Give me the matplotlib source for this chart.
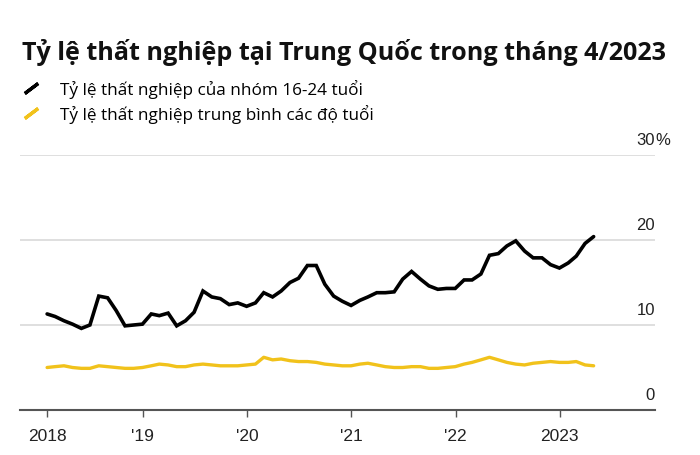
import numpy as np
import pandas as pd
import matplotlib
matplotlib.use('Agg')
import matplotlib.pyplot as plt
import matplotlib.dates as mdates
from matplotlib.lines import Line2D

## monthly values, Jan 2018 - Apr 2023 (%)
youth = [11.3, 11.0, 10.5, 10.1, 9.6, 10.0, 13.4, 13.2, 11.7, 9.9, 10.0, 10.1,
         11.3, 11.1, 11.4, 9.9, 10.5, 11.5, 14.0, 13.3, 13.1, 12.4, 12.6, 12.2,
         12.6, 13.8, 13.3, 14.0, 15.0, 15.5, 17.0, 17.0, 14.8, 13.4, 12.8, 12.3,
         12.9, 13.3, 13.8, 13.8, 13.9, 15.4, 16.3, 15.4, 14.6, 14.2, 14.3, 14.3,
         15.3, 15.3, 16.0, 18.2, 18.4, 19.3, 19.9, 18.7, 17.9, 17.9, 17.1, 16.7,
         17.3, 18.1, 19.6, 20.4]
overall = [5.0, 5.1, 5.2, 5.0, 4.9, 4.9, 5.2, 5.1, 5.0, 4.9, 4.9, 5.0,
           5.2, 5.4, 5.3, 5.1, 5.1, 5.3, 5.4, 5.3, 5.2, 5.2, 5.2, 5.3,
           5.4, 6.2, 5.9, 6.0, 5.8, 5.7, 5.7, 5.6, 5.4, 5.3, 5.2, 5.2,
           5.4, 5.5, 5.3, 5.1, 5.0, 5.0, 5.1, 5.1, 4.9, 4.9, 5.0, 5.1,
           5.4, 5.6, 5.9, 6.2, 5.9, 5.6, 5.4, 5.3, 5.5, 5.6, 5.7, 5.6,
           5.6, 5.7, 5.3, 5.2]
dates = pd.date_range('2018-01-31', periods=len(youth), freq='ME')

title = "Tỷ lệ thất nghiệp tại Trung Quốc trong tháng 4/2023"
labels = ["Tỷ lệ thất nghiệp của nhóm 16-24 tuổi",
          "Tỷ lệ thất nghiệp trung bình các độ tuổi"]
colors = ['black', '#f1c21b']

xtick_dates = [dates[0]] + [pd.Timestamp(f'{y}-01-01') for y in range(2019, 2024)]
xtick_labels = ['2018', "'19", "'20", "'21", "'22", '2023']
yticks = [0, 10, 20, 30]

plt.rcParams['font.family'] = ['Liberation Sans', 'DejaVu Sans']
txt_font = ['Open Sans', 'DejaVu Sans']

fig = plt.figure(figsize=(7, 4.56), dpi=100)
ax = fig.add_axes([20/700, 45/456, 635/700, 255/456])

ax.plot(dates, overall, color=colors[1], lw=2.4, solid_capstyle='round', zorder=3)
ax.plot(dates, youth, color=colors[0], lw=2.6, solid_capstyle='round',
        solid_joinstyle='miter', zorder=4)

ax.set_ylim(0, 30)
ax.set_xlim(pd.Timestamp('2017-10-28'), pd.Timestamp('2023-12-01'))

for v in yticks[1:]:
    ax.axhline(v, color='#d9d9d9', lw=1.2, zorder=1)

for s in ['top', 'right', 'left']:
    ax.spines[s].set_visible(False)
ax.spines['bottom'].set_color('#555555')
ax.spines['bottom'].set_linewidth(1.5)

ax.set_yticks([])
ax.set_xticks(xtick_dates)
ax.set_xticklabels(xtick_labels, fontsize=12.5, color='#222222')
ax.tick_params(axis='x', length=5, width=1.0, color='#555555', pad=8)

for v in yticks:
    ax.annotate(str(v), xy=(1.0, v), xycoords=('axes fraction', 'data'),
                xytext=(0, 6), textcoords='offset points',
                ha='right', va='bottom', fontsize=12, color='#222222')
ax.annotate('%', xy=(1.0, yticks[-1]), xycoords=('axes fraction', 'data'),
            xytext=(0, 6), textcoords='offset points',
            ha='left', va='bottom', fontsize=12, color='#222222')

fig.text(22/700, 1 - 53/456, title, fontsize=18.1, fontweight='bold',
         family=txt_font, va='center', ha='left', color='#111111')

handles = [Line2D([], [], ls='none', marker=(2, 2, -53), markersize=12,
                  markeredgewidth=2.4, color=c) for c in colors]
fig.legend(handles, labels, loc='upper left', bbox_to_anchor=(21/700, 1 - 80/456),
           frameon=False, prop={'family': txt_font, 'size': 12.3},
           handlelength=1.2, handletextpad=1.08, labelspacing=0.33,
           borderaxespad=0, borderpad=0)

fig.savefig('out.png', dpi=100)
